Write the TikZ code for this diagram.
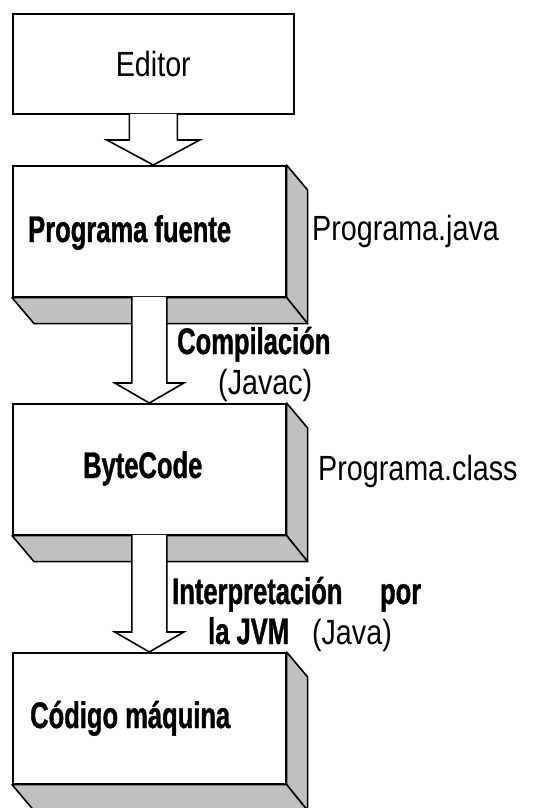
\documentclass[tikz,border=0pt]{standalone}
\usepackage{fontspec}
\usepackage{tikz}
\usetikzlibrary{calc}
\newfontfamily\diagfont[FakeStretch=0.82]{Liberation Sans}
\newfontfamily\diagbold[FakeStretch=0.69, FakeBold=1]{Liberation Sans}
\definecolor{facegray}{RGB}{192,192,192}
\tikzset{flatbox/.style={draw, line width=1.6pt, fill=white, inner sep=0pt, anchor=north west, minimum width=281pt, minimum height=100pt, font=\diagfont\fontsize{35}{40}\selectfont}}
\tikzset{frontbox/.style={draw, line width=1.6pt, fill=white, inner sep=0pt, anchor=north west, minimum width=273pt, minimum height=131pt}}
\tikzset{face/.style={draw, line width=1.6pt, fill=facegray, line join=round}}
\tikzset{blockarrow/.style={draw, line width=1.6pt, fill=white}}
\tikzset{txt/.style={inner sep=0pt, anchor=base west, font=\diagfont\fontsize{35}{40}\selectfont}}
\tikzset{boldtxt/.style={inner sep=0pt, anchor=base west, font=\diagbold\bfseries\fontsize{37}{42}\selectfont}}

\begin{document}
\begin{tikzpicture}[x=1pt, y=-1pt]
\useasboundingbox (0,0) rectangle (536,808);
%boxes of the chain, front faces
\node (ed) at (12,13)[flatbox]{Editor};
\node (pf) at (12,165)[frontbox]{};
\node (bc) at (12,403)[frontbox]{};
\node (cm) at (12,652)[frontbox]{};
%side and bottom faces
\draw[face] (pf.north east)--++(21,25)--($(pf.south east)+(21,26)$)--(pf.south east)--cycle;
\draw[face] (pf.south west)--++(22,26)--($(pf.south east)+(21,26)$)--(pf.south east)--cycle;
\draw[face] (bc.north east)--++(21,25)--($(bc.south east)+(21,26)$)--(bc.south east)--cycle;
\draw[face] (bc.south west)--++(22,26)--($(bc.south east)+(21,26)$)--(bc.south east)--cycle;
\draw[face] (cm.north east)--++(21,25)--($(cm.south east)+(21,26)$)--(cm.south east)--cycle;
\draw[face] (cm.south west)--++(22,26)--($(cm.south east)+(21,26)$)--(cm.south east)--cycle;
%block arrows, open at the top
\draw[blockarrow] ($(ed.south)+(-24,-0.8)$)--($(ed.south |- pf.north)+(-24,-25)$)--++(-22.5,0)--(ed.south |- pf.north)--++(46.5,-25)--++(-22.5,0)--($(ed.south)+(24,-0.8)$);
\draw[blockarrow] ($(pf.south)+(-17.5,-0.8)$)--($(pf.south |- bc.north)+(-17.5,-20)$)--++(-17,0)--(pf.south |- bc.north)--++(34.5,-20)--++(-17,0)--($(pf.south)+(17.5,-0.8)$);
\draw[blockarrow] ($(bc.south)+(-17.5,-0.8)$)--($(bc.south |- cm.north)+(-17.5,-20)$)--++(-17,0)--(bc.south |- cm.north)--++(34.5,-20)--++(-17,0)--($(bc.south)+(17.5,-0.8)$);
%labels
\node (pfname) at (28,242)[boldtxt]{Programa fuente};
\node (pfjava) at (312,240)[txt]{Programa.java};
\node (comp) at (177,354)[boldtxt]{Compilación};
\node (javac) at (218,394)[txt]{(Javac)};
\node (bcname) at (83,478)[boldtxt]{ByteCode};
\node (bcclass) at (318,480)[txt]{Programa.class};
\node (interp) at (172,604)[boldtxt]{\makebox[249pt][s]{Interpretación por}};
\node (jvm) at (208,644)[txt]{{\diagbold\bfseries\fontsize{37}{42}\selectfont la JVM}\hspace{23pt}(Java)};
\node (cmname) at (30,728)[boldtxt]{Código máquina};
\end{tikzpicture}
\end{document}
